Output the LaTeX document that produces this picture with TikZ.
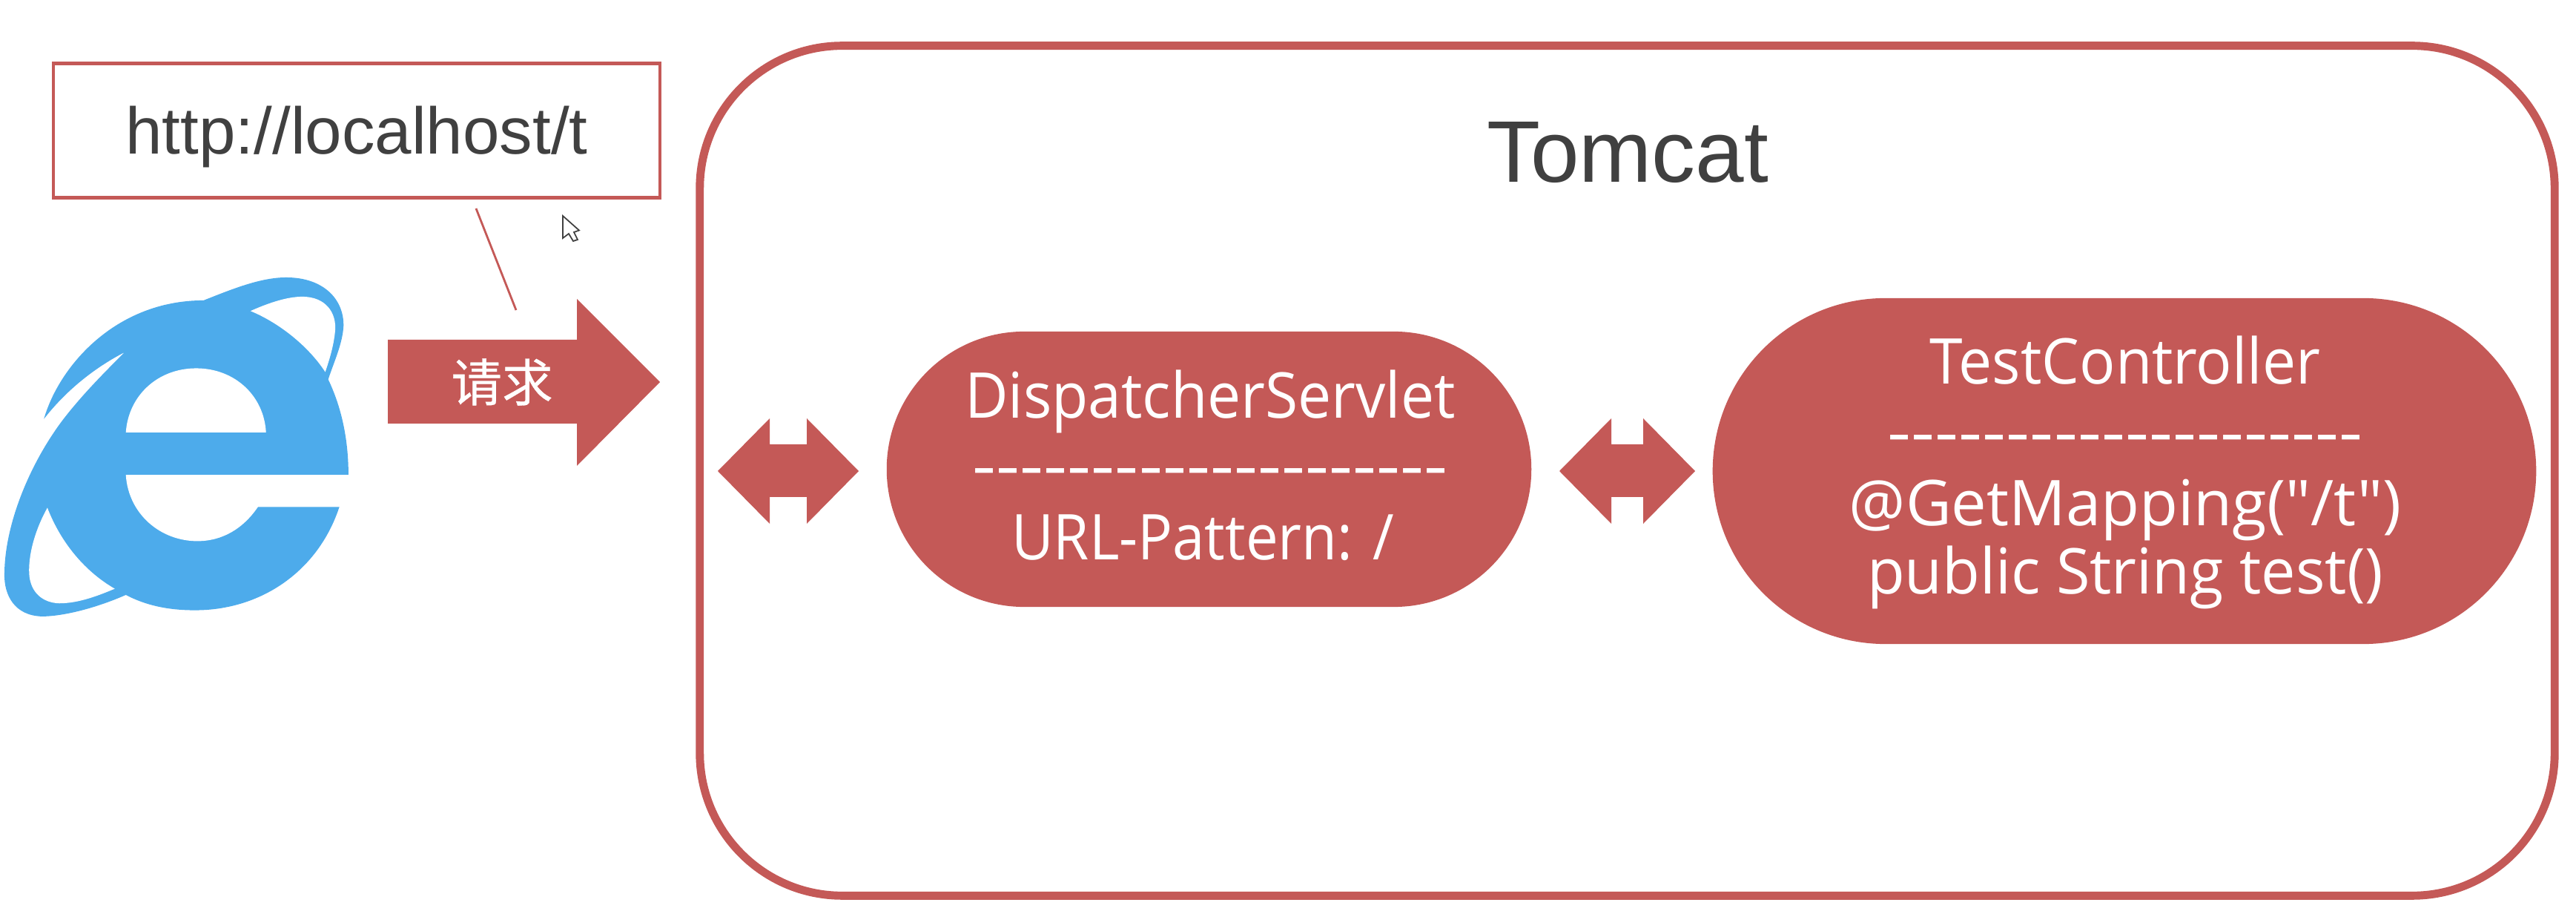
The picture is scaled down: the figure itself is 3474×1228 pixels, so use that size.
\documentclass[tikz,border=0pt]{standalone}
\usepackage{fontspec}
\setmainfont{Liberation Sans}
\newfontfamily\cjkfont[FakeBold=0.5]{Noto Sans CJK SC}
\newfontfamily\pillfont[FakeStretch=0.945]{Open Sans}
\newfontfamily\dashfont[FakeStretch=1.17]{Open Sans}
\usetikzlibrary{positioning}
\definecolor{brick}{RGB}{196,89,87}
\definecolor{ieblue}{RGB}{77,171,235}
\definecolor{inktext}{RGB}{64,64,64}
\tikzstyle{pill}=[rectangle,fill=brick,inner sep=0pt]
\tikzstyle{pilltext}=[anchor=base,inner sep=0pt,text=white,font=\pillfont\fontsize{24.2}{24.2}\selectfont]
\tikzstyle{greytext}=[inner sep=0pt,text=inktext]
\tikzstyle{urlbox}=[draw=brick,line width=1.2pt,fill=white,inner sep=0pt,minimum width=8.18cm,minimum height=1.81cm]
\tikzstyle{tomcatbox}=[draw=brick,line width=3.1pt,rounded corners=1.92cm,minimum width=25cm,minimum height=11.45cm,inner sep=0pt]
\tikzstyle{iefill}=[fill=ieblue]
\tikzstyle{biarrow}=[fill=brick]
\newcommand{\dashrow}{\dashfont -{}-{}-{}-{}-{}-{}-{}-{}-{}-{}-{}-{}-{}-{}-{}-{}-{}-{}-{}-}

\begin{document}
\begin{tikzpicture}[x=0.01cm,y=-0.01cm]

  \useasboundingbox (0,0) rectangle (3474,1228);

  % browser logo, traced at 3x
  \begin{scope}[shift={(0,360)},x=0.003333cm,y=-0.003333cm]
    \fill[iefill] (178,615) .. controls (240,400) and (470,135) .. (825,135) .. controls (950,85) and (1060,42) .. (1160,42) .. controls (1310,42) and (1395,130) .. (1392,240) .. controls (1388,310) and (1355,380) .. (1330,455) .. controls (1385,570) and (1412,700) .. (1412,842) -- (1375,972) .. controls (1290,1230) and (1060,1390) .. (790,1390) .. controls (680,1390) and (590,1370) .. (510,1328) .. controls (380,1385) and (250,1415) .. (170,1415) .. controls (60,1412) and (15,1330) .. (18,1240) .. controls (20,1040) and (120,800) .. (250,625) .. controls (330,520) and (420,430) .. (505,345) .. controls (370,415) and (260,510) .. (178,615) -- cycle;
    \fill[white] (1015,178) .. controls (1100,140) and (1170,120) .. (1225,120) .. controls (1320,120) and (1365,185) .. (1358,260) .. controls (1352,320) and (1335,375) .. (1318,425) .. controls (1250,320) and (1130,225) .. (1015,178) -- cycle;
    \fill[white] (192,975) .. controls (150,1050) and (115,1150) .. (118,1240) .. controls (122,1320) and (175,1360) .. (240,1362) .. controls (320,1362) and (400,1330) .. (465,1303) .. controls (330,1225) and (240,1100) .. (192,975) -- cycle;
    \fill[white] (510,670) -- (1078,670) .. controls (1070,520) and (950,410) .. (795,410) .. controls (640,410) and (520,520) .. (510,670) -- cycle;
    \fill[white] (510,842) -- (1430,842) -- (1430,972) -- (1045,972) .. controls (985,1060) and (900,1110) .. (800,1110) .. controls (650,1110) and (520,1000) .. (510,842) -- cycle;
  \end{scope}

  % mouse pointer
  \draw[inktext,fill=white,line width=0.5pt] (759,291) -- (759,321) -- (767,315) -- (773,325) -- (779,323) -- (774,313) -- (781,310.5) -- cycle;

  \node[urlbox,text=inktext,text height=0.7cm,text depth=0.08cm,font=\fontsize{25.3}{25.3}\selectfont] (url) at (481,176) {http://localhost/t};

  \coordinate (urlfoot) at (642,281);
  \coordinate (reqtop) at (696,418);
  \draw[brick,line width=0.8pt] (urlfoot) -- (reqtop);

  % request arrow
  \fill[brick] (523,458) -- (778,458) -- (778,403) -- (890,515) -- (778,628) -- (778,571) -- (523,571) -- cycle;
  \node[inner sep=0pt,text=white,font=\cjkfont\fontsize{19.5}{19.5}\selectfont] (req) at (677,515) {请求};

  \node[tomcatbox] (tomcat) at (2194.5,634.5) {};
  \node[greytext,anchor=base,font=\fontsize{33.5}{33.5}\selectfont] (tomcatlabel) at (2195,246) {Tomcat};

  \node[pill,minimum width=8.69cm,minimum height=3.71cm,rounded corners=1.855cm] (dispatcher) at (1630.5,632.5) {};
  \node[pill,minimum width=11.10cm,minimum height=4.66cm,rounded corners=2.33cm] (controller) at (2865,635) {};

  \foreach \x/\y/\name/\label in {1632/564/dsname/DispatcherServlet, 1632/658/dsdash/\dashrow, 1622/755/dspattern/{\scalebox{0.97}[1]{URL-Pattern: /}}, 2866/518/tcname/TestController, 2866/613/tcdash/\dashrow, 2866/709/tcmap/{\scalebox{1.055}[1]{@GetMapping("/t")}}, 2866/801/tcsig/{\scalebox{1.03}[1]{public String test()}}}
     \node[pilltext] (\name) at (\x,\y) {\label};

  % double arrows between the boxes
  \foreach \dx/\hw/\sw in {1063/95/25, 2194.5/91.5/21.5}
     \fill[biarrow] (\dx-\hw,635) -- (\dx-\sw,564) -- (\dx-\sw,599) -- (\dx+\sw,599) -- (\dx+\sw,564) -- (\dx+\hw,635) -- (\dx+\sw,706) -- (\dx+\sw,670) -- (\dx-\sw,670) -- (\dx-\sw,706) -- cycle;

\end{tikzpicture}
\end{document}
